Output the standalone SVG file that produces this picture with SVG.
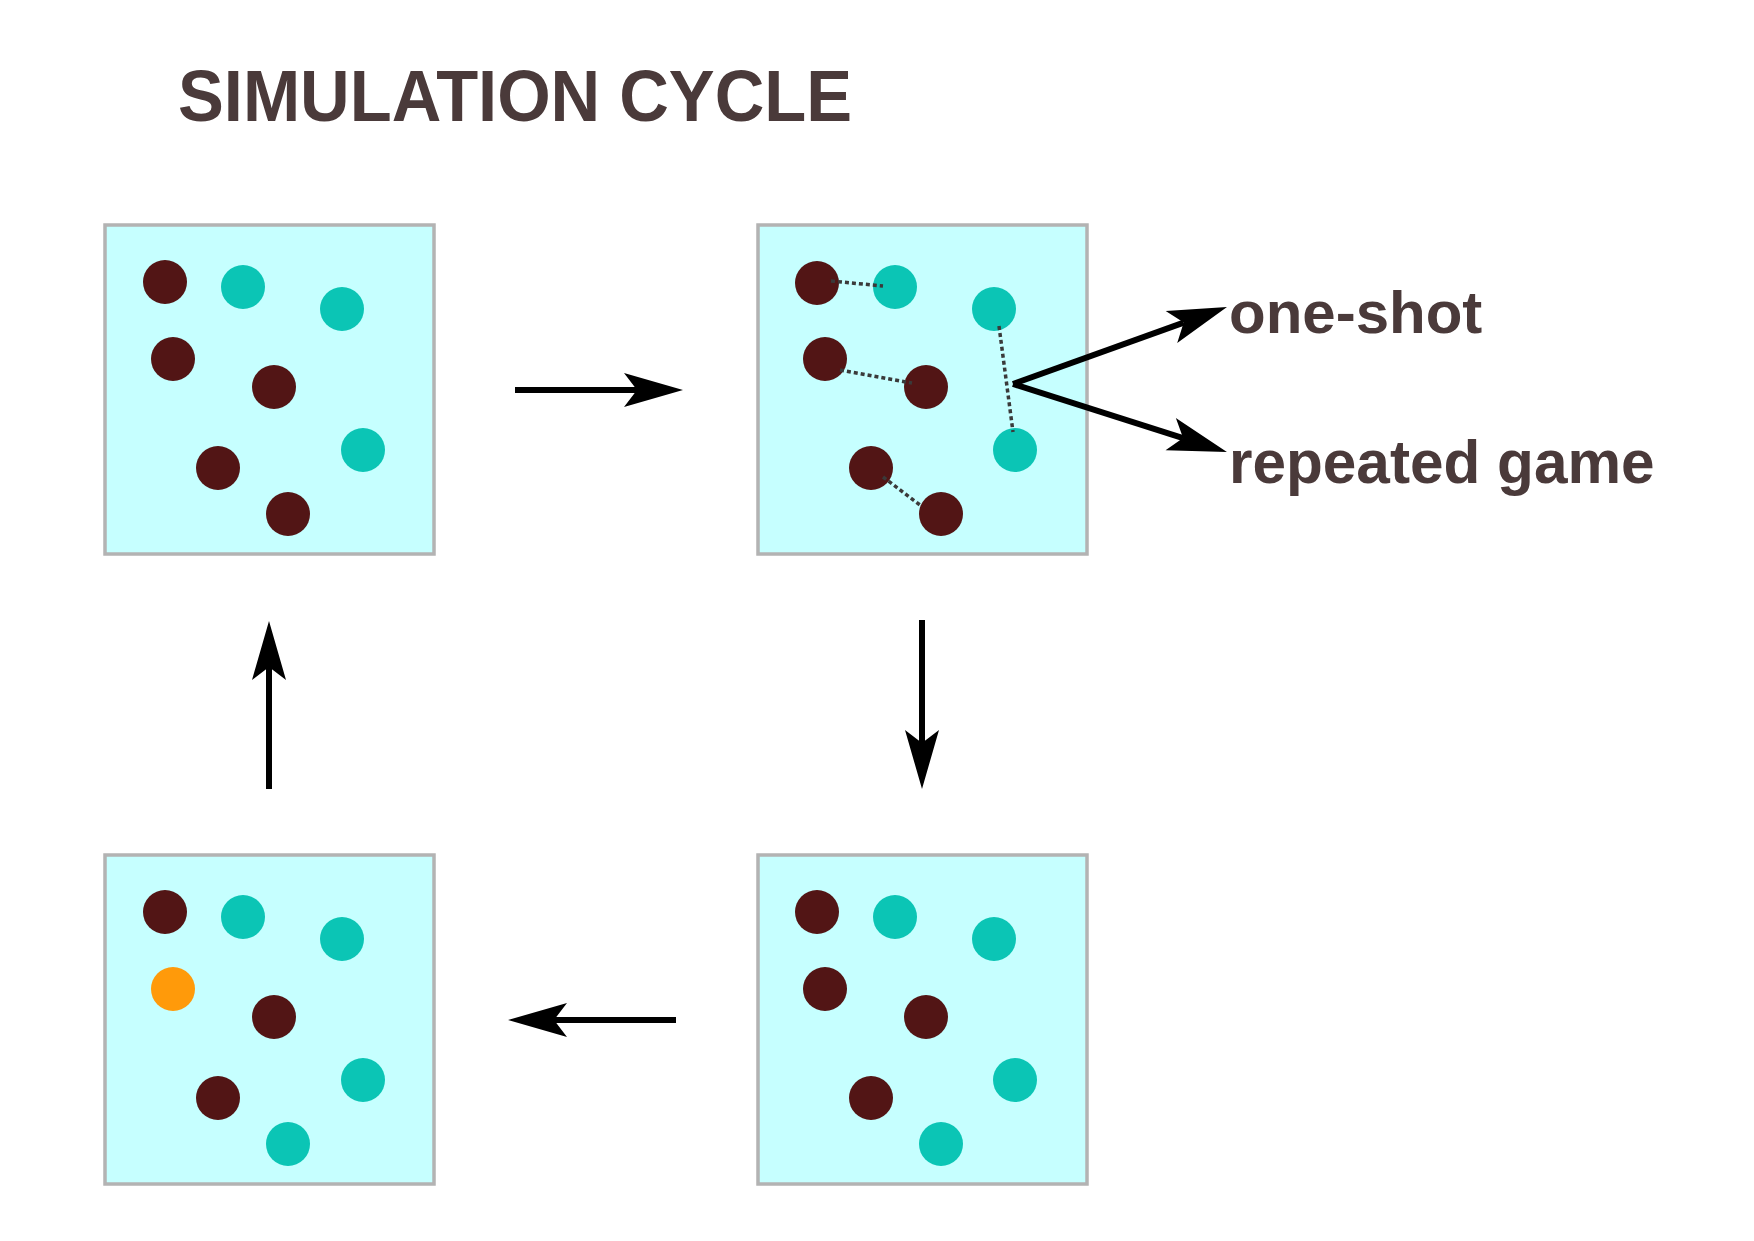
<svg xmlns="http://www.w3.org/2000/svg" width="1754" height="1241" viewBox="0 0 1754 1241">
<style>
.box{fill:#c6ffff;stroke:#b3b3b3;stroke-width:3.5}
.d{fill:#521515}
.t{fill:#0bc5b5}
.o{fill:#ff9a0a}
.lbl{font-family:"Liberation Sans",Arial,sans-serif;font-weight:bold;fill:#4a3a3a}
.arr{stroke:#000;stroke-width:6;fill:none;marker-end:url(#ah)}
.arr2{stroke:#000;stroke-width:6;fill:none;marker-end:url(#ah)}
.dot{stroke:#3a3a3a;stroke-width:3.5;stroke-dasharray:4 3;fill:none}
</style>
<defs>
<marker id="ah" markerUnits="userSpaceOnUse" viewBox="0 -18 60 36" markerWidth="60" markerHeight="36" refX="13" refY="0" orient="auto" overflow="visible">
<path d="M0,-17 L59,0 L0,17 L13,0 Z" fill="#000"/>
</marker>
</defs>
<rect width="1754" height="1241" fill="#fff"/>
<text class="lbl" x="178" y="121" font-size="72" textLength="674" lengthAdjust="spacingAndGlyphs">SIMULATION CYCLE</text>

<g id="box-initial" transform="translate(105,225)">
<rect class="box" x="0" y="0" width="329" height="329"/>
<circle class="d" cx="60" cy="57" r="22"/>
<circle class="t" cx="138" cy="62" r="22"/>
<circle class="t" cx="237" cy="84" r="22"/>
<circle class="d" cx="68" cy="134" r="22"/>
<circle class="d" cx="169" cy="162" r="22"/>
<circle class="t" cx="258" cy="225" r="22"/>
<circle class="d" cx="113" cy="243" r="22"/>
<circle class="d" cx="183" cy="289" r="22"/>
</g>

<g id="box-pairing" transform="translate(758,225)">
<rect class="box" x="0" y="0" width="329" height="329"/>
<circle class="d" cx="59" cy="58" r="22"/>
<circle class="t" cx="137" cy="62" r="22"/>
<circle class="t" cx="236" cy="84" r="22"/>
<circle class="d" cx="67" cy="134" r="22"/>
<circle class="d" cx="168" cy="162" r="22"/>
<circle class="t" cx="257" cy="225" r="22"/>
<circle class="d" cx="113" cy="243" r="22"/>
<circle class="d" cx="183" cy="289" r="22"/>
<line class="dot" x1="73" y1="56" x2="125" y2="61"/>
<line class="dot" x1="82" y1="145" x2="154" y2="158"/>
<line class="dot" x1="125" y1="252" x2="162" y2="280"/>
<line class="dot" x1="241" y1="101" x2="255" y2="207"/>
</g>

<g id="box-payoff" transform="translate(758,855)">
<rect class="box" x="0" y="0" width="329" height="329"/>
<circle class="d" cx="59" cy="57" r="22"/>
<circle class="t" cx="137" cy="62" r="22"/>
<circle class="t" cx="236" cy="84" r="22"/>
<circle class="d" cx="67" cy="134" r="22"/>
<circle class="d" cx="168" cy="162" r="22"/>
<circle class="t" cx="257" cy="225" r="22"/>
<circle class="d" cx="113" cy="243" r="22"/>
<circle class="t" cx="183" cy="289" r="22"/>
</g>

<g id="box-update" transform="translate(105,855)">
<rect class="box" x="0" y="0" width="329" height="329"/>
<circle class="d" cx="60" cy="57" r="22"/>
<circle class="t" cx="138" cy="62" r="22"/>
<circle class="t" cx="237" cy="84" r="22"/>
<circle class="o" cx="68" cy="134" r="22"/>
<circle class="d" cx="169" cy="162" r="22"/>
<circle class="t" cx="258" cy="225" r="22"/>
<circle class="d" cx="113" cy="243" r="22"/>
<circle class="t" cx="183" cy="289" r="22"/>
</g>

<g id="label-oneshot">
<text class="lbl" x="1229" y="333" font-size="60">one-shot</text>
</g>
<g id="label-repeated">
<text class="lbl" x="1229" y="483" font-size="60.3">repeated game</text>
</g>

<g id="connectors">
<line class="arr" x1="515" y1="390" x2="637" y2="390"/>
<line class="arr" x1="922" y1="620" x2="922" y2="743"/>
<line class="arr" x1="676" y1="1020" x2="554" y2="1020"/>
<line class="arr" x1="269" y1="789" x2="269" y2="667"/>
<line class="arr2" x1="1013" y1="384" x2="1183.7" y2="322.6"/>
<line class="arr2" x1="1013" y1="384" x2="1183.1" y2="438.1"/>
</g>
</svg>
